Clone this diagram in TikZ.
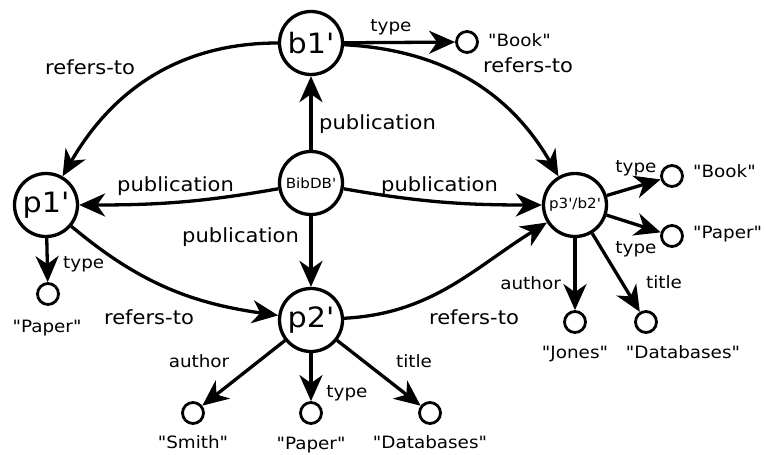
\documentclass[tikz,border=0pt]{standalone}
\usepackage{fontspec}
\setmainfont{DejaVu Sans}[FakeStretch=1.08,Ligatures=TeXOff]
\usetikzlibrary{arrows.meta}
\tikzset{>={Stealth[length=26pt,width=23pt,inset=8pt]}}
\tikzset{
  obj/.style={circle, draw, line width=3.3pt, minimum size=63pt, inner sep=0pt, font=\fontsize{28}{30}\selectfont},
  tinyobj/.style={obj, font=\fontsize{14}{16}\selectfont},
  val/.style={circle, draw, line width=2.8pt, minimum size=21pt, inner sep=0pt},
  rel/.style={->, line width=3.3pt},
  reltxt/.style={anchor=base, inner sep=0pt, font=\fontsize{19.5}{22}\selectfont},
  attrtxt/.style={anchor=base, inner sep=0pt, font=\fontsize{17}{20}\selectfont}
}

\begin{document}
\begin{tikzpicture}[x=1pt,y=-1pt]
\useasboundingbox (0,0) rectangle (766,455);
% objects
\node[obj] (b1) at (311,43) {b1'};
\node[tinyobj] (bib) at (311,183) {BibDB'};
\node[obj] (p1) at (46,205) {p1'};
\node[obj] (p2) at (311,320) {p2'};
\node[tinyobj] (p3) at (575,205) {p3'/b2'};
% atomic values
\node[val] (b1type) at (467,42) {};
\node[val] (p1type) at (48,294) {};
\node[val] (p3book) at (672,176) {};
\node[val] (p3paper) at (672,236) {};
\node[val] (p3jones) at (575,322) {};
\node[val] (p3db) at (646,322) {};
\node[val] (p2smith) at (193,413) {};
\node[val] (p2paper) at (311,413) {};
\node[val] (p2db) at (430,413) {};
% edges
\draw[rel] (bib) -- (b1);
\draw[rel] (bib) -- (p2);
\draw[rel] (bib) to[out=190,in=0] (p1);
\draw[rel] (bib) to[out=-10,in=180] (p3);
\draw[rel] (b1) -- (b1type);
\draw[rel] (b1) to[out=180,in=60] (p1);
\draw[rel] (b1) to[out=-3,in=120] (p3);
\draw[rel] (p1) -- (p1type);
\draw[rel] (p1) to[out=-40,in=172] (p2);
\draw[rel] (p2) to[out=3,in=212] (p3);
\draw[rel] (p3) -- (p3book);
\draw[rel] (p3) -- (p3paper);
\draw[rel] (p3) -- (p3jones);
\draw[rel] (p3) -- (p3db);
\draw[rel] (p2) -- (p2smith);
\draw[rel] (p2) -- (p2paper);
\draw[rel] (p2) -- (p2db);
% edge labels
\node[reltxt, anchor=base west] (r1) at (45,74) {refers-to};
\node[reltxt, anchor=base west] (r2) at (483,72) {refers-to};
\node[reltxt] (r3) at (149,324) {refers-to};
\node[reltxt] (r4) at (474,324) {refers-to};
\node[reltxt, anchor=base west] (pub1) at (319,129) {publication};
\node[reltxt, anchor=base west] (pub2) at (117,191) {publication};
\node[reltxt, anchor=base west] (pub3) at (381,191) {publication};
\node[reltxt, anchor=base west] (pub4) at (182,242) {publication};
\node[attrtxt] (t1) at (391,31) {type};
\node[attrtxt, anchor=base west] (t2) at (63,268) {type};
\node[attrtxt] (t3) at (636,172) {type};
\node[attrtxt] (t4) at (636,253) {type};
\node[attrtxt] (t5) at (347,397) {type};
\node[attrtxt, anchor=base east] (a1) at (561,289) {author};
\node[attrtxt] (a2) at (199,367) {author};
\node[attrtxt] (ti1) at (664,288) {title};
\node[attrtxt] (ti2) at (414,367) {title};
% values
\node[attrtxt, anchor=base west] (v1) at (488,46) {"Book"};
\node[attrtxt] (v2) at (47,332) {"Paper"};
\node[attrtxt, anchor=base west] (v3) at (693,177) {"Book"};
\node[attrtxt, anchor=base west] (v4) at (693,238) {"Paper"};
\node[attrtxt] (v5) at (575,358) {"Jones"};
\node[attrtxt] (v6) at (683,358) {"Databases"};
\node[attrtxt] (v7) at (193,448) {"Smith"};
\node[attrtxt] (v8) at (311,449) {"Paper"};
\node[attrtxt] (v9) at (430,448) {"Databases"};
\end{tikzpicture}
\end{document}
